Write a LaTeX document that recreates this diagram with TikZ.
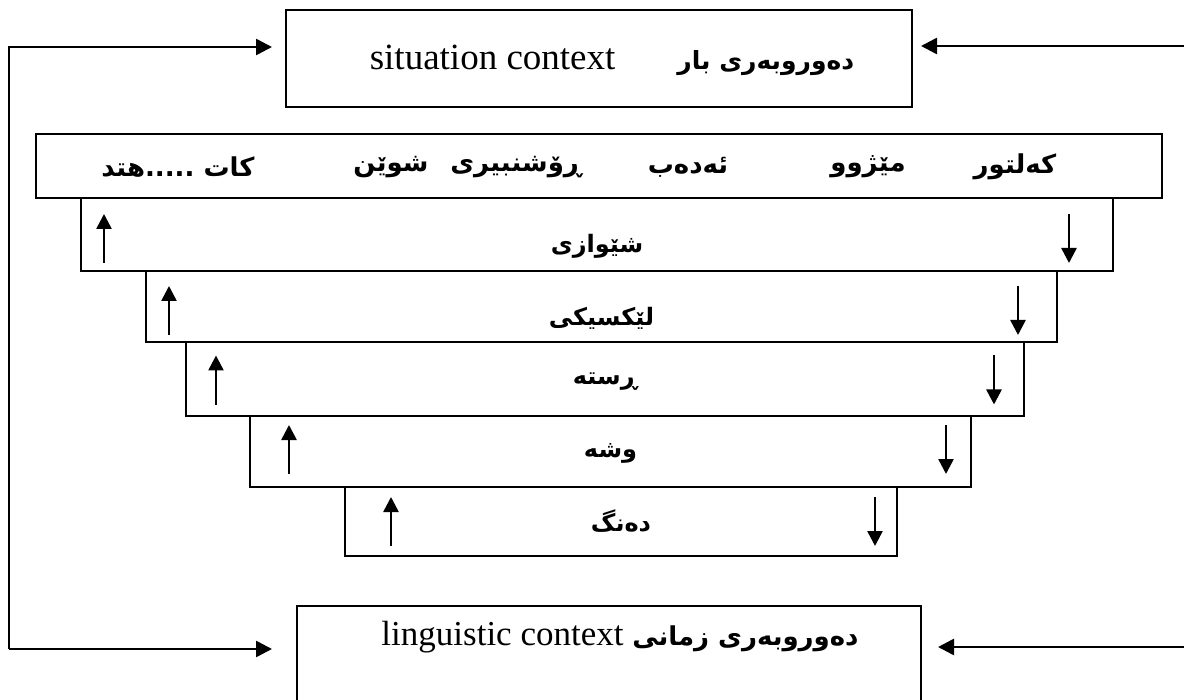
\documentclass[tikz,border=0pt]{standalone}
\usepackage{fontspec}
\setmainfont{Liberation Serif}
\newfontfamily\kurdfont[Script=Arabic]{DejaVu Sans}
\TeXXeTstate=1
\usetikzlibrary{arrows.meta,calc}
\newcommand{\kurd}[1]{{\kurdfont\bfseries\beginR #1\endR}}
\tikzset{ctx box/.style={
  draw,
  line width=1pt,
  inner sep=0pt
  },
  level box/.style={
  draw,
  line width=1pt,
  inner sep=0pt,
  font=\fontsize{12}{14}\selectfont
  },
  my arrow/.style={
  line width=1.3pt,
  -{Triangle[length=8pt,width=8pt]}
  },
  small arrow/.style={
  line width=1.3pt,
  -{Triangle[length=7.5pt,width=7.5pt]}
  }
}

\begin{document}
\begin{tikzpicture}[x=0.5pt,y=-0.5pt]
    \useasboundingbox (0,0) rectangle (1184,700);
    \clip (0,0) rectangle (1184,700);

    % context boxes
    \node[ctx box,minimum width=313pt,minimum height=48.5pt] (sit) at (599,58.5) {};
    \node[font=\fontsize{18.5}{22}\selectfont] (sittxt) at (612,60) {situation context\hspace{31pt}\kurd{\fontsize{12.5}{16}\selectfont دەوروبەری بار}};

    \node[ctx box,minimum width=312pt,minimum height=53pt] (ling) at (609,659) {};
    \node[font=\fontsize{17.5}{21}\selectfont] (lingtxt) at (620,637) {linguistic context \kurd{\fontsize{13}{16}\selectfont دەوروبەری زمانی}};

    % top bar
    \node[level box,minimum width=563pt,minimum height=32pt] (bar) at (599,166) {};
    \foreach \x/\w [count=\n] in {1015/کەلتور,868/مێژوو,688/ئەدەب,516/ڕۆشنبیری,391/شوێن,178/{کات .....هتد}}
        \node[font=\fontsize{13}{15}\selectfont] (W\n) at (\x,167) {\kurd{\w}};

    % levels
    \foreach \l/\r/\t/\b/\au/\ad/\dy/\ty/\txt [count=\n] in {81/1113/198/271/24/45/4/6/شێوازی,146/1057/271/342/24/40/4/6/لێکسیکی,186/1024/342/416/31/31/1/1.5/ڕستە,250/971/416/487/40/26/-2/1/وشە,345/897/487/556/47/23/0/0/دەنگ}
    {
        \node[level box,minimum width={(\r-\l)*0.5pt},minimum height={(\b-\t)*0.5pt}] (L\n) at ({(\l+\r)/2},{(\t+\b)/2}) {\raisebox{-\ty pt}[\height][\depth]{\kurd{\txt}}};
        \draw[small arrow] ($(L\n.west)+(\au,\dy+24.5)$) -- ($(L\n.west)+(\au,\dy-24.5)$);
        \draw[small arrow] ($(L\n.east)+(-\ad,\dy-24.5)$) -- ($(L\n.east)+(-\ad,\dy+24.5)$);
    }

    % feedback lines
    \coordinate (lt) at (9,47);
    \coordinate (lb) at (9,649);
    \coordinate (rt) at (1184,46);
    \coordinate (rb) at (1184,647);

    \draw[my arrow,shorten >=6.5pt] (lb) -- (lt) -- (sit.west |- lt);
    \draw[my arrow,shorten >=12pt] (lb) -- (ling.west |- lb);
    \draw[my arrow,shorten >=4pt] (rt) -- (sit.east |- rt);
    \draw[my arrow,shorten >=8pt] (rb) -- (ling.east |- rb);
\end{tikzpicture}
\end{document}
